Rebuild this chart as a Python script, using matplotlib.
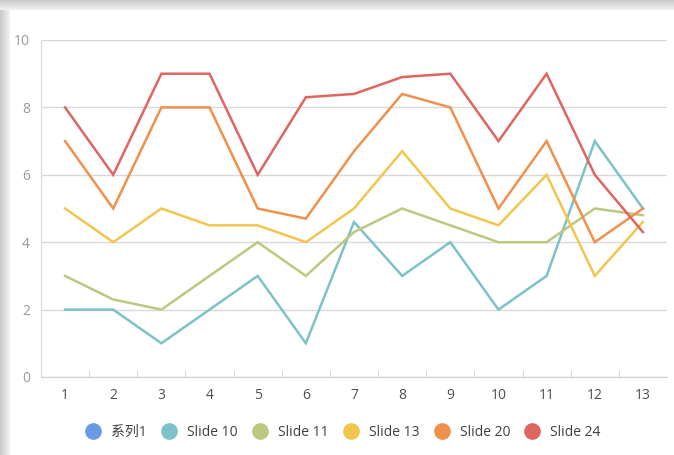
import matplotlib.pyplot as plt
from matplotlib.patches import Rectangle
from matplotlib.lines import Line2D

plt.rcParams['font.family'] = ['Open Sans', 'Noto Sans CJK SC', 'DejaVu Sans']

# 数据
x = [1, 2, 3, 4, 5, 6, 7, 8, 9, 10, 11, 12, 13]
slide10 = [2, 2, 1, 2, 3, 1, 4.6, 3, 4, 2, 3, 7, 5]
slide11 = [3, 2.3, 2, 3, 4, 3, 4.3, 5, 4.5, 4, 4, 5, 4.8]
slide13 = [5, 4, 5, 4.5, 4.5, 4, 5, 6.7, 5, 4.5, 6, 3, 4.6]
slide20 = [7, 5, 8, 8, 5, 4.7, 6.7, 8.4, 8, 5, 7, 4, 5]
slide24 = [8, 6, 9, 9, 6, 8.3, 8.4, 8.9, 9, 7, 9, 6, 4.3]

names = ['系列1', 'Slide 10', 'Slide 11', 'Slide 13', 'Slide 20', 'Slide 24']
colors = ['#6A9AE4', '#7CC2C8', '#BEC77F', '#F2C64C', '#F0904C', '#DF6560']
series = [None, slide10, slide11, slide13, slide20, slide24]

fig = plt.figure(figsize=(6.74, 4.55), dpi=100)

# 截图的灰色阴影边
for i in range(10):
    a = 0.08 + 0.04 * (10 - i)
    fig.patches.append(Rectangle((0, 1 - (i + 1) / 455), 1, 1 / 455, transform=fig.transFigure,
                                 color='#909090', alpha=a, lw=0, zorder=0))
    fig.patches.append(Rectangle((i / 674, 0), 1 / 674, 1 - 10 / 455, transform=fig.transFigure,
                                 color='#909090', alpha=a, lw=0, zorder=0))

ax = fig.add_axes([41 / 674, 78 / 455, 626 / 674, 337 / 455])

for name, c, s in zip(names, colors, series):
    if s is None:
        continue
    ax.plot(x, s, color=c, lw=1.8, solid_joinstyle='miter', zorder=3)

ax.set_xlim(0.5, 13.5)
ax.set_ylim(0, 10)
ax.set_yticks([0, 2, 4, 6, 8, 10])
ax.set_xticks(x)
ax.set_xticks([i + 0.5 for i in x[:-1]], minor=True)
ax.grid(axis='y', color='#D9D9D9', lw=1)
ax.set_axisbelow(True)

for sp in ['top', 'right']:
    ax.spines[sp].set_visible(False)
ax.spines['left'].set_color('#D9D9D9')
ax.spines['bottom'].set_color('#D0D0D0')

ax.tick_params(axis='y', length=0, pad=8, labelsize=10, labelcolor='#9A9A9A')
ax.tick_params(axis='x', which='major', length=0, pad=8, labelsize=10, labelcolor='#505050')
ax.tick_params(axis='x', which='minor', direction='in', length=5, color='#D0D0D0')

handles = [Line2D([], [], marker='o', ls='', color=c, markersize=11) for c in colors]
fig.legend(handles, names, loc='center', bbox_to_anchor=(340 / 674, 1 - 432 / 455), ncol=6,
           frameon=False, fontsize=10, handletextpad=0.3, columnspacing=0.6,
           labelcolor='#404040')

fig.savefig('out.png', dpi=100)
